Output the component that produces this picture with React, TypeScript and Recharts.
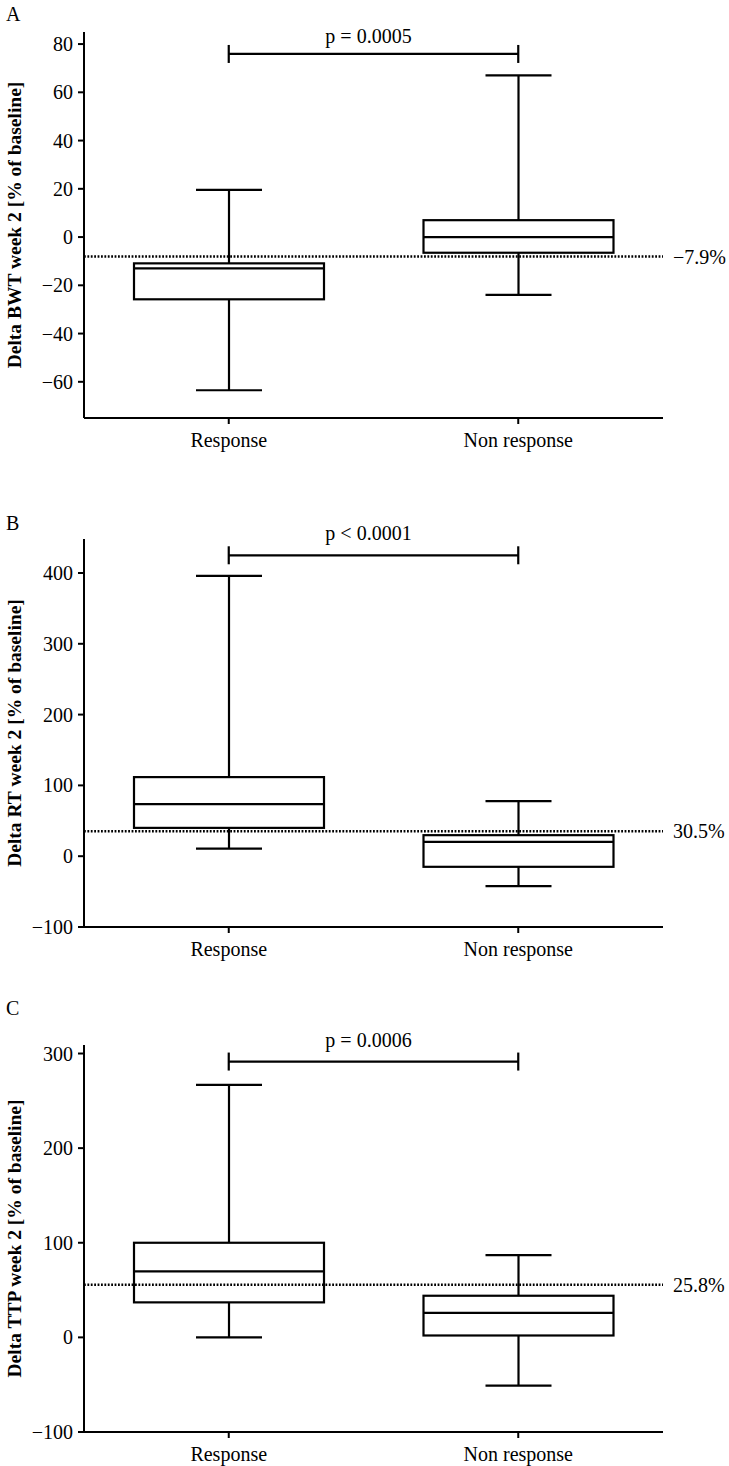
import React from 'react';
import { ComposedChart, Bar, XAxis, YAxis, ReferenceLine } from 'recharts';

const FONT = '"Liberation Serif", "Times New Roman", serif';

const groups = ['Response', 'Non response'];

// A - body weight
const bwtMin = [-63.5, -24];
const bwtQ1 = [-25.8, -6.5];
const bwtMedian = [-13, 0];
const bwtQ3 = [-10.9, 7];
const bwtMax = [19.6, 67];
const bwtTicks = [-60, -40, -20, 0, 20, 40, 60, 80];

// B - RT
const rtMin = [10.8, -42.4];
const rtQ1 = [40, -15];
const rtMedian = [73.5, 20.3];
const rtQ3 = [111.7, 29.7];
const rtMax = [396, 77.8];
const rtTicks = [-100, 0, 100, 200, 300, 400];

// C - TTP
const ttpMin = [0, -51];
const ttpQ1 = [37, 2];
const ttpMedian = [69.7, 26];
const ttpQ3 = [100, 44];
const ttpMax = [266.8, 87];
const ttpTicks = [-100, 0, 100, 200, 300];

const cutoffs = [-8.1, 35.4, 55.6];
const cutoffLabels = ['\u22127.9%', '30.5%', '25.8%'];
const pLabels = ['p = 0.0005', 'p < 0.0001', 'p = 0.0006'];
const bracketY = [75.9, 425, 291.5];
const yLabels = [
  'Delta BWT week 2 [% of baseline]',
  'Delta RT week 2 [% of baseline]',
  'Delta TTP week 2 [% of baseline]',
];
const letters = ['A', 'B', 'C'];

const rows = (mn: number[], q1: number[], md: number[], q3: number[], mx: number[]) =>
  groups.map((name, i) => ({ name, min: mn[i], q1: q1[i], med: md[i], q3: q3[i], max: mx[i] }));

const panels = [
  { data: rows(bwtMin, bwtQ1, bwtMedian, bwtQ3, bwtMax), domain: [-75, 85], ticks: bwtTicks,
    top: 0, height: 470, mTop: 32, mBottom: 22, letterTop: 4, pGap: 11 },
  { data: rows(rtMin, rtQ1, rtMedian, rtQ3, rtMax), domain: [-100, 448], ticks: rtTicks,
    top: 480, height: 490, mTop: 59, mBottom: 13, letterTop: 33, pGap: 15 },
  { data: rows(ttpMin, ttpQ1, ttpMedian, ttpQ3, ttpMax), domain: [-100, 309], ticks: ttpTicks,
    top: 960, height: 506, mTop: 85, mBottom: 4, letterTop: 38, pGap: 15 },
];

const fmt = (v: number) => (v < 0 ? '\u2212' + Math.abs(v) : String(v));

const BoxShape = (props: any) => {
  const { x, y, width, height, payload } = props;
  const top = Math.min(y, y + height);
  const bottom = Math.max(y, y + height);
  const py = (v: number) => top + ((bottom - top) * (payload.max - v)) / (payload.max - payload.min);
  const cx = x + width / 2;
  const cap = 33;
  return (
    <g stroke="#000" strokeWidth={2.2} fill="none">
      <line x1={cx} x2={cx} y1={py(payload.max)} y2={py(payload.q3)} />
      <line x1={cx} x2={cx} y1={py(payload.q1)} y2={py(payload.min)} />
      <line x1={cx - cap} x2={cx + cap} y1={py(payload.max)} y2={py(payload.max)} />
      <line x1={cx - cap} x2={cx + cap} y1={py(payload.min)} y2={py(payload.min)} />
      <rect x={x} y={py(payload.q3)} width={width} height={py(payload.q1) - py(payload.q3)} />
      <line x1={x} x2={x + width} y1={py(payload.med)} y2={py(payload.med)} />
    </g>
  );
};

const makeBracket = (text: string, gap: number) => (props: any) => {
  const { x1, x2, y1 } = props;
  return (
    <g>
      <g stroke="#000" strokeWidth={2.2}>
        <line x1={x1} x2={x2} y1={y1} y2={y1} />
        <line x1={x1} x2={x1} y1={y1 - 9} y2={y1 + 9} />
        <line x1={x2} x2={x2} y1={y1 - 9} y2={y1 + 9} />
      </g>
      <text x={(x1 + x2) / 2 - 5} y={y1 - gap} textAnchor="middle" fill="#000" fontSize={20} fontFamily={FONT}>
        {text}
      </text>
    </g>
  );
};

export default function App() {
  return (
    <div style={{ position: 'absolute', left: 0, top: 0, width: 729, height: 1466, background: '#fff', fontFamily: FONT }}>
      {panels.map((p, i) => (
        <div key={i} style={{ position: 'absolute', left: 0, top: p.top, width: 729, height: p.height }}>
          <span style={{ position: 'absolute', left: 6, top: p.letterTop, fontSize: 20, lineHeight: '20px', color: '#000' }}>
            {letters[i]}
          </span>
          <ComposedChart width={729} height={p.height} data={p.data}
            margin={{ top: p.mTop, right: 66, bottom: p.mBottom, left: 0 }}>
            <XAxis dataKey="name" type="category" interval={0} height={30}
              axisLine={{ stroke: '#000', strokeWidth: 2 }}
              tickLine={{ stroke: '#000', strokeWidth: 2 }}
              tickSize={6} tickMargin={9}
              tick={{ fill: '#000', fontSize: 20, fontFamily: FONT }} />
            <YAxis type="number" domain={p.domain} ticks={p.ticks} allowDataOverflow width={84}
              axisLine={{ stroke: '#000', strokeWidth: 2 }}
              tickLine={{ stroke: '#000', strokeWidth: 2 }}
              tickSize={6} tickMargin={5} tickFormatter={fmt}
              tick={{ fill: '#000', fontSize: 20, fontFamily: FONT }}
              label={{ value: yLabels[i], angle: -90, position: 'insideLeft', offset: 14,
                style: { textAnchor: 'middle', fill: '#000', fontSize: 19.5, fontWeight: 'bold', fontFamily: FONT } }} />
            <Bar dataKey={(d: any) => [d.min, d.max]} barSize={190} shape={BoxShape} isAnimationActive={false} />
            <ReferenceLine y={cutoffs[i]} stroke="#000" strokeWidth={2.5} strokeDasharray="1.8 1.6"
              label={{ value: cutoffLabels[i], position: 'right', offset: 10, fill: '#000', fontSize: 20, fontFamily: FONT }} />
            <ReferenceLine segment={[{ x: groups[0], y: bracketY[i] }, { x: groups[1], y: bracketY[i] }]}
              shape={makeBracket(pLabels[i], p.pGap)} />
          </ComposedChart>
        </div>
      ))}
    </div>
  );
}
